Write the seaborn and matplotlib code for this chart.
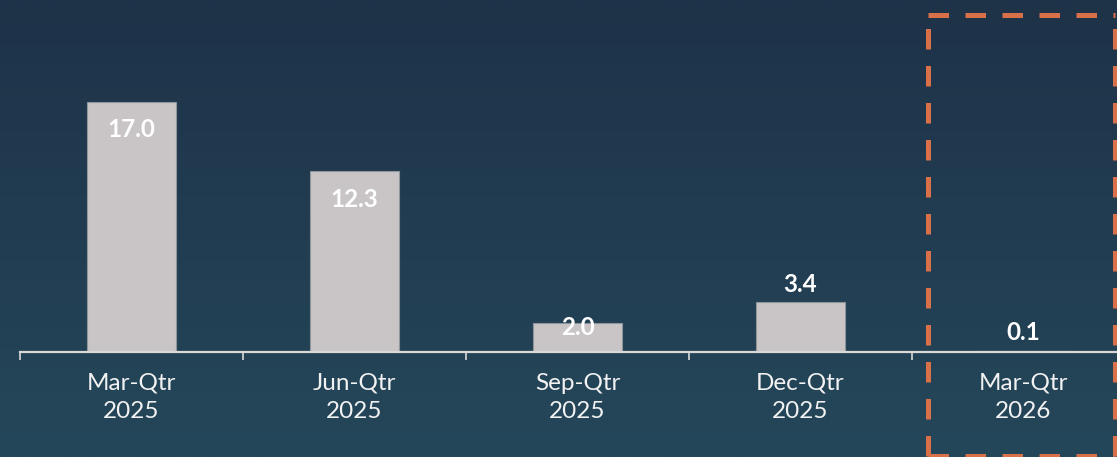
import matplotlib
matplotlib.use("Agg")
import matplotlib.pyplot as plt
import seaborn as sns
import numpy as np
import pandas as pd
from matplotlib.colors import LinearSegmentedColormap
from matplotlib.lines import Line2D

quarters = ["Mar-Qtr\n2025", "Jun-Qtr\n2025", "Sep-Qtr\n2025", "Dec-Qtr\n2025", "Mar-Qtr\n2026"]
values = [17.0, 12.3, 2.0, 3.4, 0.1]
value_labels = ["17.0", "12.3", "2.0", "3.4", "0.1"]

sns.set_style("white")
plt.rcParams['font.family'] = ['Lato', 'DejaVu Sans']

W, H = 1117, 457
fig = plt.figure(figsize=(W / 100, H / 100), dpi=100)

# gradient background
bg = fig.add_axes([0, 0, 1, 1])
bg.set_axis_off()
cmap = LinearSegmentedColormap.from_list("bg", ["#1e3248", "#25475a"])
grad = np.linspace(0, 1, 256).reshape(-1, 1)
bg.imshow(grad, aspect="auto", cmap=cmap, extent=[0, 1, 1, 0])
bg.set_xlim(0, 1); bg.set_ylim(1, 0)

# main axes: left edge at x=20px, baseline at y=352px, each category 223px wide
left = 20 / W
bottom = (H - 352) / H
width = 5 * 223 / W
height = 352 / H
ax = fig.add_axes([left, bottom, width, height])
ax.patch.set_alpha(0)

df = pd.DataFrame({"quarter": quarters, "value": values})
sns.barplot(data=df, x="quarter", y="value", ax=ax, color="#c9c5c6",
            width=0.4, edgecolor="#8e959b", linewidth=0.8, saturation=1)

ax.set_xlim(-0.5, 4.5)
ax.set_ylim(0, 352 / 14.706)
ax.set_xlabel("")
ax.set_ylabel("")
ax.set_yticks([])
for s in ["top", "right", "left"]:
    ax.spines[s].set_visible(False)
ax.spines["bottom"].set_color("#d9d9d9")
ax.spines["bottom"].set_linewidth(1.6)

ax.set_xticks([0, 1, 2, 3, 4])
ax.set_xticklabels(quarters, fontsize=17.5, color="#f2f2f2")
for lbl in ax.get_xticklabels():
    lbl.set_linespacing(1.4)
ax.tick_params(axis="x", which="major", bottom=True, length=0, pad=15)
ax.set_xticks([-0.5, 0.5, 1.5, 2.5, 3.5], minor=True)
ax.tick_params(axis="x", which="minor", bottom=True, length=6, width=1.2,
               color="#d9d9d9", direction="out")

# value labels
offsets = [-1.9, -1.9, -0.35, 1.2, 1.2]
for i, (v, lab) in enumerate(zip(values, value_labels)):
    y = v + offsets[i]
    ax.text(i, y, lab, ha="center", va="center", fontsize=17.5,
            fontweight="bold", color="white")

# dashed highlight box (figure pixels)
orange = "#d8714a"
x0, x1 = 928 / W, 1115 / W
y0, y1 = 1 - 456 / H, 1 - 15 / H
for xs, ys in [([x0, x0], [y0, y1]), ([x1, x1], [y0, y1]),
               ([x0, x1], [y1, y1]), ([x0, x1], [y0, y0])]:
    ln = Line2D(xs, ys, transform=fig.transFigure, color=orange, lw=3.6,
                dashes=(4.1, 3.3), solid_capstyle="butt", dash_capstyle="butt")
    fig.add_artist(ln)

fig.savefig("out.png", dpi=100)
